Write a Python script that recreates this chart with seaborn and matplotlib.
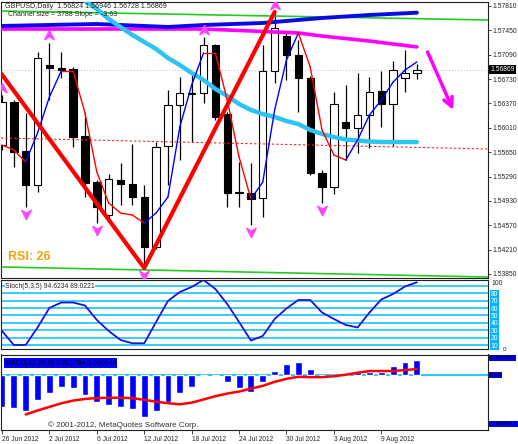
import numpy as np
import matplotlib
matplotlib.use("Agg")
import matplotlib.pyplot as plt
import matplotlib.transforms as mtrans
import seaborn as sns

# GBPUSD daily bars, 26 Jun 2012 - 14 Aug 2012
opens = [1.55756, 1.56391, 1.55667, 1.55165, 1.56938, 1.56894, 1.56879, 1.55889, 1.55209, 1.54721,
         1.55239, 1.55180, 1.54987, 1.54248, 1.55741, 1.56347, 1.56525, 1.56525, 1.57234, 1.56214,
         1.55061, 1.55047, 1.54973, 1.56850, 1.57367, 1.57086, 1.56746, 1.55342, 1.55135, 1.56096,
         1.56007, 1.56199, 1.56554, 1.56362, 1.56746, 1.56824]
highs = [1.56495, 1.56421, 1.56229, 1.57130, 1.57264, 1.57130, 1.56909, 1.56229, 1.55239, 1.55327,
         1.55490, 1.55771, 1.55165, 1.55800, 1.56569, 1.56761, 1.56791, 1.57352, 1.57249, 1.56244,
         1.55505, 1.55490, 1.57234, 1.57722, 1.57411, 1.57308, 1.56776, 1.55386, 1.56539, 1.56643,
         1.56820, 1.56761, 1.56850, 1.56997, 1.57160, 1.56946]
lows = [1.55682, 1.55431, 1.54840, 1.55061, 1.56421, 1.56746, 1.55726, 1.54987, 1.54603, 1.54692,
        1.54869, 1.54869, 1.53938, 1.54219, 1.55165, 1.55534, 1.55800, 1.56377, 1.56125, 1.54840,
        1.54840, 1.54574, 1.54692, 1.56672, 1.56717, 1.56244, 1.55313, 1.54899, 1.55032, 1.55534,
        1.55638, 1.55712, 1.56022, 1.55741, 1.56539, 1.56728]
closes = [1.56391, 1.55652, 1.55165, 1.57042, 1.56894, 1.56864, 1.55874, 1.55194, 1.54840, 1.55253,
          1.55180, 1.54987, 1.54248, 1.55726, 1.56347, 1.56525, 1.56510, 1.57234, 1.56170, 1.55047,
          1.55047, 1.54958, 1.56850, 1.57485, 1.57086, 1.56746, 1.55342, 1.55135, 1.56362, 1.56007,
          1.56199, 1.56539, 1.56362, 1.56864, 1.56820, 1.56869]

# thin two-colour moving average
ma_fast = [1.55756, 1.55682, 1.55505, 1.55933, 1.56465, 1.56850, 1.56850, 1.56229, 1.55357, 1.54899,
           1.54751, 1.54721, 1.54603, 1.54751, 1.54987, 1.56022, 1.56643, 1.57116, 1.57116, 1.56421,
           1.55579, 1.54958, 1.55209, 1.56273, 1.57012, 1.57411, 1.56909, 1.55978, 1.55608, 1.55534,
           1.55830, 1.56199, 1.56421, 1.56687, 1.56864, 1.56983]

# thick light blue average (starts at bar 6)
slow_idx = list(range(6, 36))
slow_ma = [1.58002, 1.57884, 1.57766, 1.57618, 1.57500, 1.57382, 1.57278, 1.57175, 1.57042, 1.56938,
           1.56820, 1.56717, 1.56584, 1.56480, 1.56362, 1.56273, 1.56214, 1.56170, 1.56111, 1.56066,
           1.55978, 1.55919, 1.55874, 1.55837, 1.55822, 1.55808, 1.55800, 1.55800, 1.55800, 1.55800]

# long averages near the top
blue_idx = [0, 8, 14, 17, 22, 27, 31, 35]
blue_ma = [1.57515, 1.57544, 1.57500, 1.57529, 1.57559, 1.57633, 1.57677, 1.57711]
mag_idx = [0, 10, 17, 21, 25, 27, 31, 35]
mag_ma = [1.57470, 1.57470, 1.57470, 1.57441, 1.57411, 1.57366, 1.57292, 1.57205]

# regression channel
chan_idx = [0, 41]
chan_top = [1.57736, 1.57603]
chan_bot = [1.53953, 1.53805]
chan_mid = [1.55859, 1.55697]

# zigzag
zz_idx = [-1, 12, 23]
zz_val = [1.57033, 1.53938, 1.57722]

# fractal arrows
frac_up = [0, 4, 17, 23]
frac_dn = [2, 8, 12, 21, 27]

# Stochastic main line
stoch = [29.2, 10.4, 10.4, 33.9, 60.1, 67.4, 67.4, 63.4, 44.0, 29.2, 17.1, 12.7, 12.7, 41.3, 69.5,
         81.5, 88.3, 97.7, 85.6, 65.4, 41.3, 16.4, 22.5, 45.3, 59.4, 70.8, 70.8, 54.0, 45.3, 37.2,
         33.9, 54.0, 71.5, 78.9, 88.9, 94.6]
stoch_levels = [90, 80, 70, 60, 50, 40, 30, 20, 10]

# MACD histogram and signal
macd_hist = [-0.00343, -0.00354, -0.00390, -0.00271, -0.00192, -0.00127, -0.00144, -0.00216, -0.00295,
             -0.00325, -0.00343, -0.00371, -0.00451, -0.00390, -0.00295, -0.00198, -0.00127, 0.0, 0.0,
             -0.00079, -0.00144, -0.00181, -0.00079, 0.00043, 0.00116, 0.00144, 0.00065, 0.0, 0.0,
             0.00005, 0.00029, 0.00036, 0.00036, 0.00101, 0.00144, 0.00166]
sig_idx = list(range(2, 36))
macd_sig = [-0.00427, -0.00384, -0.00345, -0.00306, -0.00277, -0.00259, -0.00249, -0.00246, -0.00246,
            -0.00251, -0.00268, -0.00289, -0.00305, -0.00317, -0.00299, -0.00265, -0.00229, -0.00201,
            -0.00179, -0.00147, -0.00117, -0.00074, -0.00041, -0.00019, -0.00023, -0.00023, -0.00013,
            0.00003, 0.00025, 0.00043, 0.00043, 0.00043, 0.00054, 0.00065]

date_idx = [0, 4, 8, 12, 16, 20, 24, 28, 32]
date_labels = ["26 Jun 2012", "2 Jul 2012", "6 Jul 2012", "12 Jul 2012", "18 Jul 2012",
               "24 Jul 2012", "30 Jul 2012", "3 Aug 2012", "9 Aug 2012"]
price_ticks = [1.57810, 1.57450, 1.57090, 1.56730, 1.56370, 1.56010, 1.55650,
               1.55290, 1.54930, 1.54570, 1.54210, 1.53850]
last_price = 1.56869

sns.set_style("white")
plt.rcParams['font.family'] = ['Liberation Sans', 'DejaVu Sans']

W, H = 518, 444
fig = plt.figure(figsize=(W / 100, H / 100), dpi=100)
left, width = 1 / W, 487 / W
ax = fig.add_axes([left, 1 - 277.7 / H, width, 275.7 / H])
ax_st = fig.add_axes([left, 1 - 349 / H, width, 69.5 / H])
ax_md = fig.add_axes([left, 1 - 430 / H, width, 75.5 / H])

x = np.arange(len(opens))
o, h, l, c = map(np.array, (opens, highs, lows, closes))
xlim = (-0.084, 41.0)

# ---- main price window
ax.vlines(x, l, h, color='black', lw=0.9, zorder=2)
up = c >= o
lo = np.minimum(o, c)
bh = np.maximum(np.abs(c - o), 0.00004)
ax.bar(x[up], bh[up], bottom=lo[up], width=0.62, color='white', edgecolor='black', lw=0.8, zorder=3)
ax.bar(x[~up], bh[~up], bottom=lo[~up], width=0.62, color='black', edgecolor='black', lw=0.8, zorder=3)

ax.axhline(last_price, color='#C8C8C8', ls=':', lw=0.8, zorder=1)
sns.lineplot(x=chan_idx, y=chan_top, ax=ax, color='#22CC22', lw=1.2, zorder=4)
sns.lineplot(x=chan_idx, y=chan_bot, ax=ax, color='#22CC22', lw=1.2, zorder=4)
ax.plot([-0.1, 41], chan_mid, color='#FF2020', ls=(0, (2, 2)), lw=0.8, zorder=4)

sns.lineplot(x=mag_idx, y=mag_ma, ax=ax, color='#FF00FF', lw=2.6, zorder=5)
sns.lineplot(x=blue_idx, y=blue_ma, ax=ax, color='#0A0AE6', lw=2.8, zorder=5)
sns.lineplot(x=slow_idx, y=slow_ma, ax=ax, color='#2EC4F2', lw=3.2, zorder=5)

for i in range(len(ma_fast) - 1):
    col = '#0000FF' if ma_fast[i + 1] > ma_fast[i] else '#FF0000'
    ax.plot(x[i:i + 2], ma_fast[i:i + 2], color=col, lw=1.0, zorder=6)

sns.lineplot(x=zz_idx, y=zz_val, ax=ax, color='#FF0000', lw=3.0, zorder=6)

arrow_dn = [(0, -1), (-0.9, 0.8), (0, 0.25), (0.9, 0.8), (0, -1)]
arrow_up = [(0, 1), (-0.9, -0.8), (0, -0.25), (0.9, -0.8), (0, 1)]
ax.plot(frac_up, h[frac_up] + 0.0011, ls='none', marker=arrow_up, ms=7.5,
        color='#FF44FF', mec='#FF44FF', zorder=7)
ax.plot(frac_dn, l[frac_dn] - 0.0011, ls='none', marker=arrow_dn, ms=7.5,
        color='#FF44FF', mec='#FF44FF', zorder=7)

ax.annotate('', xy=(38.06, 1.56273), xytext=(35.9, 1.57131),
            arrowprops=dict(arrowstyle='->', color='#FF00FF', lw=2.5, mutation_scale=16,
                            shrinkA=0, shrinkB=0), zorder=7)

ax.set_xlim(*xlim)
ax.set_ylim(1.53795, 1.57869)
ax.set_xticks([])
ax.yaxis.tick_right()
ax.set_yticks(price_ticks)
ax.set_yticklabels([f"{v:.5f}" for v in price_ticks])
ax.tick_params(axis='y', direction='out', length=2.5, width=0.6, labelsize=4.9, pad=1.0)
blend = mtrans.blended_transform_factory(ax.transAxes, ax.transData)
ax.text(1.005, last_price, f"{last_price:.5f}", transform=blend, fontsize=4.9, color='white',
        va='center', ha='left', bbox=dict(facecolor='black', edgecolor='none', pad=0.7), zorder=10)

# ---- stochastic window
for v in stoch_levels:
    ax_st.axhline(v, color='#00BFFF', lw=1.1)
sns.lineplot(x=x, y=stoch, ax=ax_st, color='#1414DC', lw=1.3)
ax_st.set_xlim(*xlim)
ax_st.set_ylim(5.0, 98.3)
ax_st.set_xticks([])
ax_st.yaxis.tick_right()
ax_st.set_yticks(stoch_levels[1:])
ax_st.set_yticklabels([str(v) for v in stoch_levels[1:]])
ax_st.tick_params(axis='y', length=0, labelsize=4.9, pad=2)
for lbl in ax_st.get_yticklabels():
    lbl.set_color('white')
    lbl.set_bbox(dict(facecolor='#00B4FF', edgecolor='none', pad=0.3))
bst = mtrans.blended_transform_factory(ax_st.transAxes, ax_st.transData)
ax_st.text(1.008, 92.5, "100", transform=bst, fontsize=4.9, va='center', ha='left')
ax_st.text(1.030, 4.0, "0", transform=bst, fontsize=4.5, va='center', ha='left')

# ---- MACD window
ax_md.axhline(0, color='#00BFFF', lw=1.2, zorder=1)
ax_md.bar(x, macd_hist, width=0.58, color='#0000FF', zorder=2)
sns.lineplot(x=sig_idx, y=macd_sig, ax=ax_md, color='#FF0000', lw=1.8, zorder=3)
ax_md.set_xlim(*xlim)
ax_md.set_ylim(-0.00595, 0.00222)
ax_md.set_yticks([])
ax_md.set_xticks(date_idx)
ax_md.set_xticklabels(date_labels, ha='left')
ax_md.tick_params(axis='x', direction='out', length=3, width=0.6, labelsize=4.8, pad=1.5, bottom=True)
bmd = mtrans.blended_transform_factory(ax_md.transAxes, ax_md.transData)
for val, txt in [(0.00185, "0.002163"), (0.0, "0.00"), (-0.0053, "-0.008617")]:
    ax_md.text(1.004, val, txt, transform=bmd, fontsize=4.4, va='center', ha='left', color='black',
               bbox=dict(facecolor='#0000FF', edgecolor='none', pad=0.5), clip_on=False)

for a in (ax, ax_st, ax_md):
    for s in a.spines.values():
        s.set_color('#202020')
        s.set_linewidth(0.8)
    a.set_xlabel('')
    a.set_ylabel('')

# ---- labels
def px(xp, yp):
    return xp / W, 1 - yp / H

fig.text(*px(5, 6), "GBPUSD,Daily  1.56824 1.56946 1.56728 1.56869", fontsize=5.1, va='center')
fig.text(*px(8, 15), "Channel size = 3788 Slope = -3.63", fontsize=5.0, va='center')
fig.text(*px(8, 257), "RSI: 26", fontsize=9, fontweight='bold', color='#F0A30A', va='center')
fig.text(*px(5, 287), "Stoch(5,3,5) 94.6234 89.0221", fontsize=4.9, va='center',
         bbox=dict(facecolor='white', edgecolor='none', pad=0.3))
fig.text(*px(5, 363), "MACD(12,26,9) 0.001784 0.000644", fontsize=5.0, va='center', color='black',
         bbox=dict(facecolor='#0000FF', edgecolor='none', pad=0.8))
fig.text(*px(48, 425), "\u00a9 2001-2012, MetaQuotes Software Corp.", fontsize=5.8, va='center',
         color='#303030')

fig.savefig("out.png", dpi=100)
